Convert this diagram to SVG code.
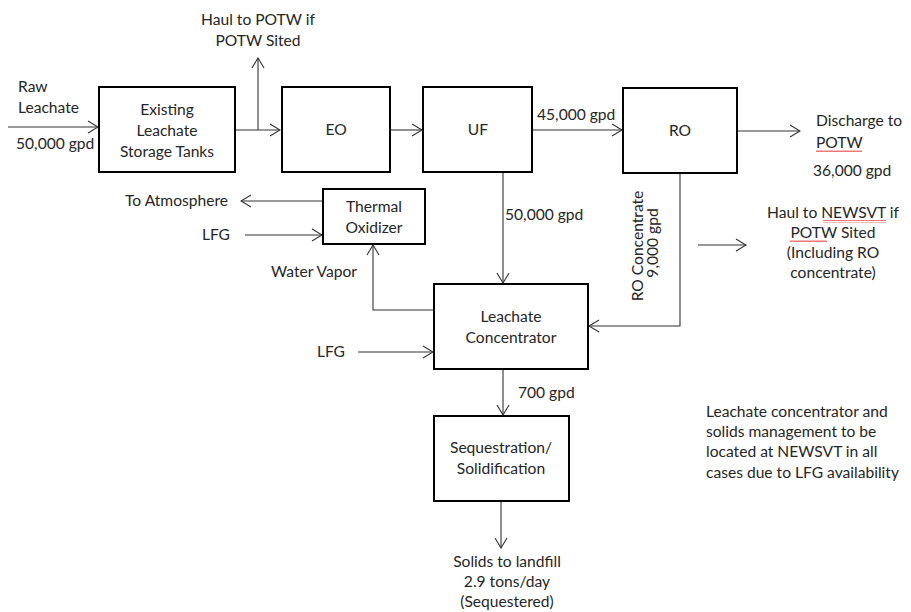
<svg xmlns="http://www.w3.org/2000/svg" width="911" height="612" viewBox="0 0 911 612">
<defs>
<marker id="arr" viewBox="0 0 12 14" refX="11" refY="7" markerWidth="12" markerHeight="14" markerUnits="userSpaceOnUse" orient="auto">
<polyline points="1,1 11,7 1,13" fill="none" stroke="#333" stroke-width="1.1"/>
</marker>
<pattern id="sq" width="4" height="3" patternUnits="userSpaceOnUse"><path d="M0,2 L1,0.5 L2,2 L3,0.5 L4,2" fill="none" stroke="#e02020" stroke-width="0.7"/></pattern>
</defs>
<style>
text{font-family:"Lato","Open Sans",sans-serif;font-size:15.6px;fill:#262626}
.c{text-anchor:middle}
.box{fill:#fff;stroke:#000;stroke-width:2}
.ln{fill:none;stroke:#333;stroke-width:1.1}
.a{marker-end:url(#arr)}
</style>
<rect width="911" height="612" fill="#fff"/>
<g id="connectors">
<line class="ln a" x1="8" y1="127" x2="98" y2="127"/>
<line class="ln a" x1="236" y1="130" x2="280" y2="130"/>
<line class="ln a" x1="258" y1="130" x2="258" y2="58"/>
<line class="ln a" x1="391" y1="130" x2="422" y2="130"/>
<line class="ln a" x1="533" y1="130" x2="622" y2="130"/>
<line class="ln a" x1="738" y1="131" x2="800" y2="131"/>
<polyline class="ln a" points="680,174 680,326 589,326"/>
<line class="ln a" x1="698" y1="245" x2="746" y2="245"/>
<line class="ln a" x1="503" y1="173" x2="503" y2="283"/>
<line class="ln a" x1="322" y1="201" x2="241" y2="201"/>
<line class="ln a" x1="245" y1="235" x2="322" y2="235"/>
<polyline class="ln a" points="433,310 373,310 373,245"/>
<line class="ln a" x1="358" y1="352" x2="433" y2="352"/>
<line class="ln a" x1="503" y1="370" x2="503" y2="415"/>
<line class="ln a" x1="501" y1="502" x2="501" y2="548"/>
</g>
<g id="existing"><rect class="box" x="99" y="87" width="136" height="85"/>
<text class="c" x="167" y="115">Existing</text><text class="c" x="167" y="136">Leachate</text><text class="c" x="167" y="157">Storage Tanks</text></g>
<g id="eo"><rect class="box" x="282" y="87" width="108" height="85"/><text class="c" x="336" y="135">EO</text></g>
<g id="uf"><rect class="box" x="423" y="87" width="109" height="85"/><text class="c" x="478" y="135">UF</text></g>
<g id="ro"><rect class="box" x="623" y="88" width="114" height="85"/><text class="c" x="680" y="136">RO</text></g>
<g id="thermal"><rect class="box" x="323" y="189" width="102" height="55"/>
<text class="c" x="374" y="212">Thermal</text><text class="c" x="374" y="233">Oxidizer</text></g>
<g id="concentrator"><rect class="box" x="434" y="284" width="154" height="85"/>
<text class="c" x="511" y="322">Leachate</text><text class="c" x="511" y="343">Concentrator</text></g>
<g id="sequestration"><rect class="box" x="434" y="416" width="135" height="85"/>
<text class="c" x="501" y="453">Sequestration/</text><text class="c" x="501" y="474">Solidification</text></g>
<g id="labels">
<text x="18" y="92">Raw</text>
<text x="18" y="113">Leachate</text>
<text x="16" y="149">50,000 gpd</text>
<text class="c" x="258" y="25">Haul to POTW if</text>
<text class="c" x="258" y="46">POTW Sited</text>
<text x="537" y="120">45,000 gpd</text>
<text x="816" y="126">Discharge to</text>
<text x="816" y="148">POTW</text>
<rect x="816" y="150" width="46" height="3" fill="url(#sq)"/>
<text x="813" y="176">36,000 gpd</text>
<g transform="translate(643,246) rotate(-90)"><text class="c" x="0" y="0">RO Concentrate</text><text class="c" x="3" y="15">9,000 gpd</text></g>
<text class="c" x="833" y="218">Haul to NEWSVT if</text>
<rect x="823" y="220" width="63" height="3" fill="url(#sq)"/>
<text class="c" x="833" y="238">POTW Sited</text>
<rect x="790" y="240" width="37" height="3" fill="url(#sq)"/>
<text class="c" x="833" y="258">(Including RO</text>
<text class="c" x="833" y="278">concentrate)</text>
<text x="505" y="220">50,000 gpd</text>
<text x="228" y="206" text-anchor="end">To Atmosphere</text>
<text x="230" y="240" text-anchor="end">LFG</text>
<text x="271" y="277">Water Vapor</text>
<text x="345" y="357" text-anchor="end">LFG</text>
<text x="518" y="398">700 gpd</text>
<text class="c" x="507" y="567">Solids to landfill</text>
<text class="c" x="507" y="587">2.9 tons/day</text>
<text class="c" x="507" y="607">(Sequestered)</text>
<text x="706" y="417">Leachate concentrator and</text>
<text x="706" y="437">solids management to be</text>
<text x="706" y="457">located at NEWSVT in all</text>
<text x="706" y="478">cases due to LFG availability</text>
</g>
</svg>
